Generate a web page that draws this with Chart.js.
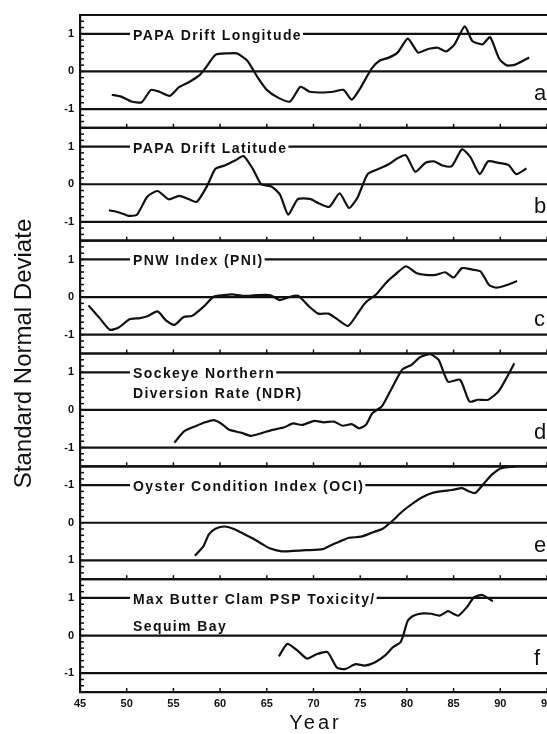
<!DOCTYPE html>
<html>
<head>
<meta charset="utf-8">
<title>Standard Normal Deviate</title>
<script src="https://cdn.jsdelivr.net/npm/chart.js@4.4.1/dist/chart.umd.min.js"></script>
<style>
  html, body { margin: 0; padding: 0; background: #fff; overflow: hidden; }
  #wrap { width: 570px; height: 734px; }
</style>
</head>
<body>
<div id="wrap"><canvas id="sndChart" width="570" height="734"></canvas></div>
<script>
"use strict";

// year ticks on the shared bottom axis, level ticks on every panel
const yearTicks = [45, 50, 55, 60, 65, 70, 75, 80, 85, 90, 95];
const levelTicks = [-1, 0, 1];

// a: PAPA drift longitude
const lonYears = [48.4, 49.4, 50.5, 51.6, 52.6, 53.5, 54.6, 55.6, 56.7, 57.8, 58.5, 59.5, 60.8, 61.8, 62.9, 64.0, 65.0, 66.3, 67.5, 68.6, 69.6, 71.1, 72.1, 73.2, 74.1, 75.0, 76.2, 77.1, 78.0, 79.0, 80.1, 81.2, 82.2, 83.3, 84.2, 85.1, 86.2, 87.0, 88.1, 88.9, 89.9, 90.7, 91.6, 93.1];
const lonValues = [-0.62, -0.67, -0.80, -0.82, -0.49, -0.54, -0.65, -0.42, -0.28, -0.10, 0.11, 0.44, 0.48, 0.48, 0.29, -0.15, -0.49, -0.71, -0.80, -0.41, -0.54, -0.56, -0.54, -0.49, -0.75, -0.45, 0.07, 0.29, 0.36, 0.50, 0.87, 0.50, 0.59, 0.63, 0.53, 0.72, 1.20, 0.81, 0.72, 0.91, 0.33, 0.16, 0.18, 0.37];

// b: PAPA drift latitude
const latYears = [48.1, 49.2, 50.2, 51.1, 52.2, 53.3, 54.5, 55.6, 56.6, 57.5, 58.6, 59.5, 60.5, 61.6, 62.5, 63.5, 64.4, 65.5, 66.4, 67.3, 68.3, 69.6, 70.6, 71.7, 72.8, 73.8, 74.7, 75.8, 77.0, 78.1, 79.0, 79.9, 80.9, 82.0, 82.9, 83.8, 84.8, 85.9, 86.8, 87.8, 88.7, 89.8, 90.9, 91.7, 92.8];
const latValues = [-0.69, -0.75, -0.84, -0.81, -0.33, -0.18, -0.40, -0.31, -0.39, -0.47, -0.05, 0.41, 0.50, 0.63, 0.75, 0.41, 0.00, -0.06, -0.27, -0.81, -0.40, -0.39, -0.51, -0.60, -0.24, -0.63, -0.36, 0.27, 0.41, 0.54, 0.69, 0.77, 0.33, 0.57, 0.61, 0.50, 0.48, 0.93, 0.72, 0.27, 0.61, 0.57, 0.51, 0.27, 0.42];

// c: PNW index
const pniYears = [45.9, 47.1, 48.2, 49.2, 50.3, 51.4, 52.2, 53.3, 54.2, 55.1, 56.1, 57.0, 58.3, 59.3, 60.4, 61.3, 62.5, 63.9, 65.4, 66.4, 67.5, 68.4, 69.4, 70.5, 71.6, 72.6, 73.7, 74.8, 75.6, 76.7, 77.8, 78.8, 79.9, 81.0, 82.0, 83.1, 84.1, 85.0, 85.9, 87.0, 87.9, 88.8, 89.6, 90.7, 91.8];
const pniValues = [-0.22, -0.56, -0.87, -0.80, -0.59, -0.56, -0.51, -0.38, -0.62, -0.74, -0.53, -0.50, -0.24, 0.01, 0.05, 0.07, 0.03, 0.05, 0.05, -0.08, 0.01, 0.03, -0.22, -0.44, -0.44, -0.60, -0.77, -0.41, -0.14, 0.07, 0.39, 0.61, 0.82, 0.64, 0.59, 0.59, 0.66, 0.52, 0.77, 0.73, 0.68, 0.32, 0.25, 0.32, 0.43];

// d: sockeye northern diversion rate
const ndrYears = [55.1, 56.2, 57.3, 58.4, 59.3, 60.1, 61.0, 62.3, 63.3, 64.4, 65.6, 66.9, 67.8, 68.8, 70.1, 71.1, 72.2, 73.1, 74.1, 74.9, 75.6, 76.3, 77.3, 78.2, 79.5, 80.5, 81.4, 82.5, 83.4, 84.4, 85.7, 86.7, 87.6, 88.7, 89.8, 90.6, 91.5];
const ndrValues = [-0.87, -0.56, -0.44, -0.33, -0.27, -0.36, -0.53, -0.61, -0.69, -0.62, -0.53, -0.46, -0.36, -0.40, -0.29, -0.33, -0.31, -0.42, -0.38, -0.49, -0.40, -0.09, 0.09, 0.49, 1.07, 1.20, 1.40, 1.48, 1.33, 0.75, 0.80, 0.22, 0.27, 0.27, 0.49, 0.82, 1.24];

// e: oyster condition index (plotted on an inverted scale)
const ociYears = [57.3, 58.2, 58.8, 59.5, 60.5, 61.4, 62.5, 63.5, 64.4, 65.3, 66.6, 67.8, 69.2, 71.0, 72.1, 72.8, 73.8, 75.1, 76.3, 77.4, 78.4, 79.5, 80.6, 81.6, 82.7, 83.8, 84.8, 85.9, 86.6, 87.3, 88.2, 89.1, 90.1, 91.6];
const ociValues = [0.88, 0.63, 0.31, 0.16, 0.10, 0.16, 0.29, 0.42, 0.55, 0.68, 0.76, 0.75, 0.73, 0.70, 0.57, 0.50, 0.40, 0.37, 0.26, 0.16, -0.04, -0.30, -0.51, -0.67, -0.79, -0.84, -0.87, -0.92, -0.84, -0.79, -1.03, -1.28, -1.45, -1.50];

// f: max butter clam PSP toxicity, Sequim Bay
const pspYears = [66.3, 67.2, 68.3, 69.3, 70.4, 71.5, 72.5, 73.4, 74.5, 75.5, 76.6, 77.7, 78.5, 79.3, 79.6, 80.1, 80.7, 81.7, 82.6, 83.5, 84.4, 84.9, 85.5, 86.4, 87.2, 88.1, 89.2];
const pspValues = [-0.55, -0.22, -0.40, -0.61, -0.49, -0.44, -0.85, -0.89, -0.76, -0.80, -0.71, -0.52, -0.31, -0.18, 0.00, 0.40, 0.53, 0.59, 0.58, 0.53, 0.65, 0.59, 0.53, 0.75, 1.02, 1.08, 0.91];

const panelTitles = [
  ["PAPA Drift Longitude"],
  ["PAPA Drift Latitude"],
  ["PNW Index (PNI)"],
  ["Sockeye Northern", "Diversion Rate (NDR)"],
  ["Oyster Condition Index (OCI)"],
  ["Max Butter Clam PSP Toxicity/", "Sequim Bay"]
];
const panelLetters = ["a", "b", "c", "d", "e", "f"];
const panelReversed = [false, false, false, false, true, false];
const panelIds = ["ya", "yb", "yc", "yd", "ye", "yf"];
const yTitle = "Standard Normal Deviate";
const xTitle = "Year";

const seriesList = [
  [lonYears, lonValues],
  [latYears, latValues],
  [pniYears, pniValues],
  [ndrYears, ndrValues],
  [ociYears, ociValues],
  [pspYears, pspValues]
];

const ink = "#111";
const face = "'Liberation Sans', Arial, Helvetica, sans-serif";
const secondLineGap = [0, 0, 0, 20, 0, 27];

function points(years, values) {
  return years.map((yr, i) => ({ x: yr, y: values[i] }));
}

const datasets = seriesList.map((s, i) => ({
  data: points(s[0], s[1]),
  yAxisID: panelIds[i],
  borderColor: ink,
  borderWidth: 2.2,
  pointRadius: 0,
  tension: 0.2,
  fill: false
}));

const scales = {
  x: {
    type: "linear",
    min: 45,
    max: 95,
    grid: { display: false, drawTicks: false },
    border: { display: true, color: ink, width: 2.2 },
    afterBuildTicks: (s) => { s.ticks = yearTicks.map(v => ({ value: v })); },
    afterFit: (s) => { s.height = 42; },
    ticks: {
      padding: 5,
      autoSkip: false,
      maxRotation: 0,
      color: ink,
      font: { family: face, size: 11, weight: "bold" }
    }
  }
};

panelIds.forEach((id, i) => {
  scales[id] = {
    type: "linear",
    position: "left",
    stack: "panels",
    stackWeight: 1,
    weight: panelIds.length - i,
    min: -1.5,
    max: 1.5,
    reverse: panelReversed[i],
    grid: { display: false, drawTicks: false },
    border: { display: true, color: ink, width: 2.2 },
    afterBuildTicks: (s) => { s.ticks = levelTicks.map(v => ({ value: v })); },
    afterFit: (s) => { s.width = 80; },
    ticks: {
      padding: 6,
      color: ink,
      font: { family: face, size: 11, weight: "bold" }
    }
  };
});

// rules, ticks, panel titles and letters, axis titles
const panelDecor = {
  id: "panelDecor",
  beforeDatasetsDraw(chart) {
    const { ctx, chartArea: area, scales: sc } = chart;
    const xs = sc.x;
    ctx.save();
    ctx.strokeStyle = ink;
    ctx.fillStyle = ink;

    panelIds.forEach((id, i) => {
      const ys = sc[id];
      const rows = [ys.top, ys.bottom].concat(levelTicks.map(v => ys.getPixelForValue(v)));

      ctx.lineWidth = 2.2;
      rows.forEach(y => {
        ctx.beginPath();
        ctx.moveTo(area.left, y);
        ctx.lineTo(area.right, y);
        ctx.stroke();
      });

      // year ticks rising from the floor of each panel
      ctx.lineWidth = 1.5;
      yearTicks.forEach(yr => {
        const x = xs.getPixelForValue(yr);
        ctx.beginPath();
        ctx.moveTo(x, ys.bottom);
        ctx.lineTo(x, ys.bottom - 4);
        ctx.stroke();
      });

      // minor ticks inside the left axis
      for (let k = 1; k < 18; k++) {
        const y = ys.getPixelForValue(-1.5 + k / 6);
        ctx.beginPath();
        ctx.moveTo(area.left, y);
        ctx.lineTo(area.left + 4, y);
        ctx.stroke();
      }

      const upper = Math.min(ys.getPixelForValue(1), ys.getPixelForValue(-1));
      const lower = Math.max(ys.getPixelForValue(1), ys.getPixelForValue(-1));
      const zero = ys.getPixelForValue(0);

      // title sits on the upper rule, breaking it
      ctx.font = "bold 14px " + face;
      ctx.letterSpacing = "1.4px";
      ctx.textAlign = "left";
      ctx.textBaseline = "alphabetic";
      panelTitles[i].forEach((txt, k) => {
        const y = upper + k * secondLineGap[i];
        const x = area.left + 53;
        const w = ctx.measureText(txt).width;
        ctx.fillStyle = "#fff";
        ctx.fillRect(x - 3, y - 8, w + 4, 15);
        ctx.fillStyle = ink;
        ctx.fillText(txt, x, y + 6);
      });

      ctx.font = "22px " + face;
      ctx.letterSpacing = "0px";
      ctx.fillText(panelLetters[i], area.right - 13, zero + 0.77 * (lower - zero));
    });

    // axis titles
    ctx.font = "20px " + face;
    ctx.letterSpacing = "3px";
    ctx.textAlign = "center";
    ctx.fillText(xTitle, (area.left + area.right) / 2 + 2, 729);

    ctx.letterSpacing = "0px";
    ctx.font = "24px " + face;
    ctx.translate(24, (area.top + area.bottom) / 2);
    ctx.rotate(-Math.PI / 2);
    ctx.textBaseline = "middle";
    ctx.fillText(yTitle, 0, 0);
    ctx.restore();
  }
};

const sndChart = new Chart(document.getElementById("sndChart"), {
  type: "line",
  data: { datasets: datasets },
  options: {
    responsive: false,
    animation: false,
    layout: { padding: { top: 15, right: 23, bottom: 0, left: 0 } },
    plugins: { legend: { display: false }, tooltip: { enabled: false } },
    scales: scales
  },
  plugins: [panelDecor]
});
</script>
</body>
</html>
